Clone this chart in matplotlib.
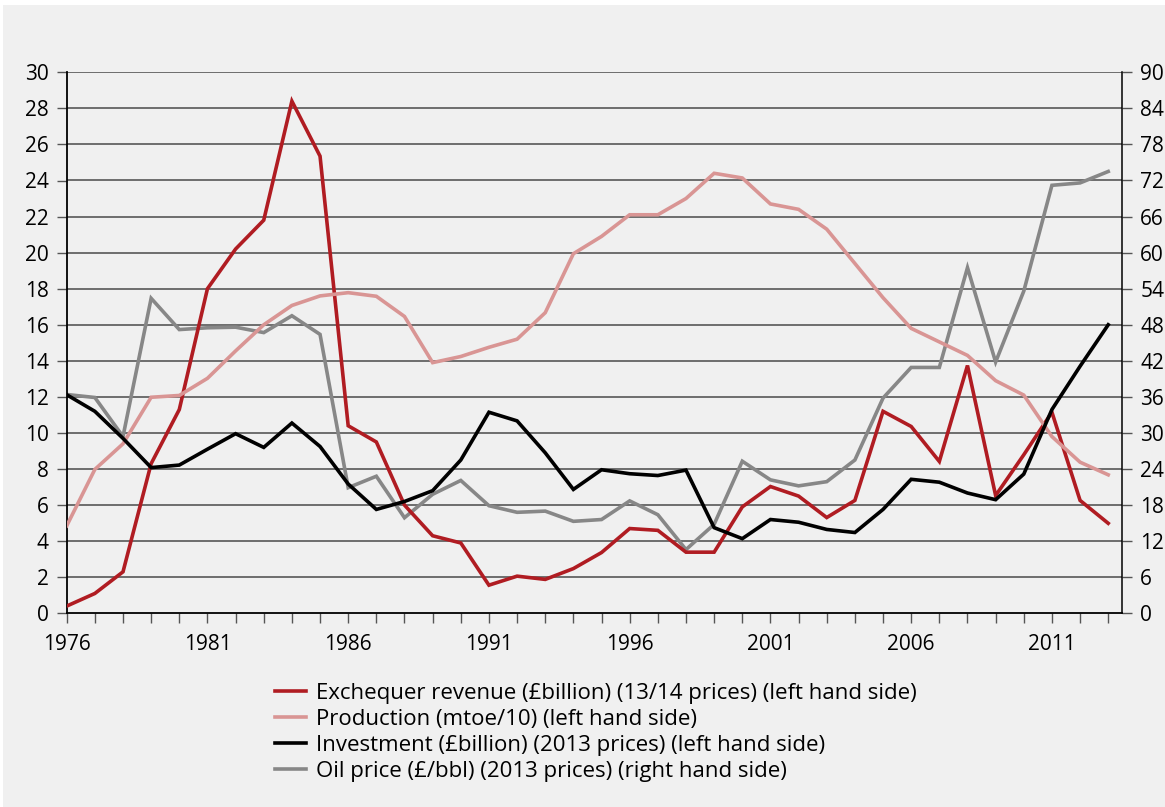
"""
UK oil & gas: exchequer revenue, production, investment and oil price, 1976-2013.
"""

import numpy as np
import matplotlib
matplotlib.use("Agg")
import matplotlib.pyplot as plt
from matplotlib.patches import Rectangle

years = list(range(1976, 2014))

# left hand side
exchequer = [0.4, 1.1, 2.3, 8.3, 11.3, 18.0, 20.2, 21.8, 28.4, 25.35,
             10.4, 9.5, 6.0, 4.3, 3.9, 1.56, 2.06, 1.88, 2.48, 3.37,
             4.7, 4.6, 3.39, 3.39, 5.9, 7.03, 6.5, 5.31, 6.26, 11.2,
             10.36, 8.42, 13.74, 6.53, 8.79, 11.15, 6.26, 4.99]
production = [4.85, 7.98, 9.4, 11.98, 12.08, 13.03, 14.55, 16.0, 17.07, 17.6,
              17.78, 17.58, 16.46, 13.9, 14.24, 14.75, 15.2, 16.67, 19.94, 20.9,
              22.1, 22.1, 23.0, 24.4, 24.14, 22.7, 22.4, 21.3, 19.4, 17.5,
              15.8, 15.05, 14.3, 12.9, 12.1, 9.8, 8.38, 7.68]
investment = [12.12, 11.2, 9.7, 8.08, 8.22, 9.1, 9.96, 9.2, 10.55, 9.25,
              7.17, 5.76, 6.2, 6.8, 8.5, 11.15, 10.67, 8.9, 6.87, 7.96,
              7.74, 7.64, 7.94, 4.75, 4.14, 5.2, 5.05, 4.65, 4.48, 5.76,
              7.43, 7.27, 6.67, 6.3, 7.72, 11.3, 13.7, 16.0]
# right hand side
oil_price = [36.4, 35.9, 29.4, 52.4, 47.2, 47.5, 47.6, 46.7, 49.5, 46.4,
             20.9, 22.8, 15.9, 19.8, 22.1, 17.9, 16.8, 17.0, 15.3, 15.6,
             18.7, 16.4, 10.6, 14.8, 25.3, 22.2, 21.2, 21.9, 25.5, 35.8,
             40.9, 40.9, 57.5, 41.8, 53.6, 71.2, 71.6, 73.5]

left_ticks = list(range(0, 31, 2))
right_ticks = list(range(0, 91, 6))
year_labels = [str(y) if (y - 1976) % 5 == 0 else "" for y in years]

labels = [
    "Exchequer revenue (\u00a3billion) (13/14 prices) (left hand side)",
    "Production (mtoe/10) (left hand side)",
    "Investment (\u00a3billion) (2013 prices) (left hand side)",
    "Oil price (\u00a3/bbl) (2013 prices) (right hand side)",
]
colors = ["#b01c22", "#d99594", "#000000", "#878787"]


def main():
    plt.rcParams["font.family"] = ["Open Sans", "DejaVu Sans"]
    bg = "#f0f0f0"
    fig = plt.figure(figsize=(11.65, 8.07), dpi=100, facecolor="white")
    fig.patches.append(Rectangle((3 / 1165, 0), 1, 1 - 5 / 807,
                                 transform=fig.transFigure, facecolor=bg,
                                 edgecolor="none", zorder=-10))
    ax = fig.add_axes([66.7 / 1165, 1 - 613.3 / 807,
                       (1122.3 - 66.7) / 1165, (613.3 - 72.3) / 807])
    ax.set_facecolor(bg)
    ax2 = ax.twinx()

    lw = 2.6
    h = []
    for data, c, lab in zip([exchequer, production, investment], colors[:3], labels[:3]):
        ln, = ax.plot(years, data, color=c, lw=lw, label=lab, zorder=3,
                      solid_joinstyle="miter")
        h.append(ln)
    ln, = ax2.plot(years, oil_price, color=colors[3], lw=lw, label=labels[3], zorder=2,
                   solid_joinstyle="miter")
    h.insert(3, ln)
    # gray line sits under the left-axis lines
    ax.set_zorder(ax2.get_zorder() + 1)
    ax.patch.set_visible(False)
    ax2.patch.set_visible(True)
    ax2.patch.set_facecolor(bg)
    ax2.set_zorder(0)

    ax.set_xlim(1976, 2013.5)
    ax.set_ylim(0, 30)
    ax2.set_ylim(0, 90)
    ax.set_yticks(left_ticks)
    ax2.set_yticks(right_ticks)
    ax.set_xticks(years)
    ax.set_xticklabels(year_labels)

    for t in left_ticks[1:]:
        ax2.axhline(t * 3, color="#4a4a4a", lw=1.1, zorder=1)

    for a in (ax, ax2):
        for s in a.spines.values():
            s.set_visible(False)
    ax.spines["left"].set_visible(True)
    ax.spines["bottom"].set_visible(True)
    ax2.spines["right"].set_visible(True)
    for s in ("left", "bottom"):
        ax.spines[s].set_linewidth(1.3)
    ax2.spines["right"].set_linewidth(1.1)

    ax.tick_params(axis="x", direction="out", length=7, width=1, color="#555555",
                   labelsize=15, pad=8)
    ax.tick_params(axis="y", direction="out", length=7, width=1, color="#555555",
                   labelsize=15, pad=6)
    ax2.tick_params(axis="y", direction="out", length=7, width=1, color="#555555",
                    labelsize=15, pad=6)

    fig.legend(h, labels, loc="upper left", bbox_to_anchor=(264 / 1165, 1 - 672 / 807),
               frameon=False, fontsize=16, handlelength=1.4, handletextpad=0.45,
               labelspacing=0.22, borderpad=0)

    fig.savefig("out.png", dpi=100, facecolor=fig.get_facecolor())


if __name__ == "__main__":
    main()
